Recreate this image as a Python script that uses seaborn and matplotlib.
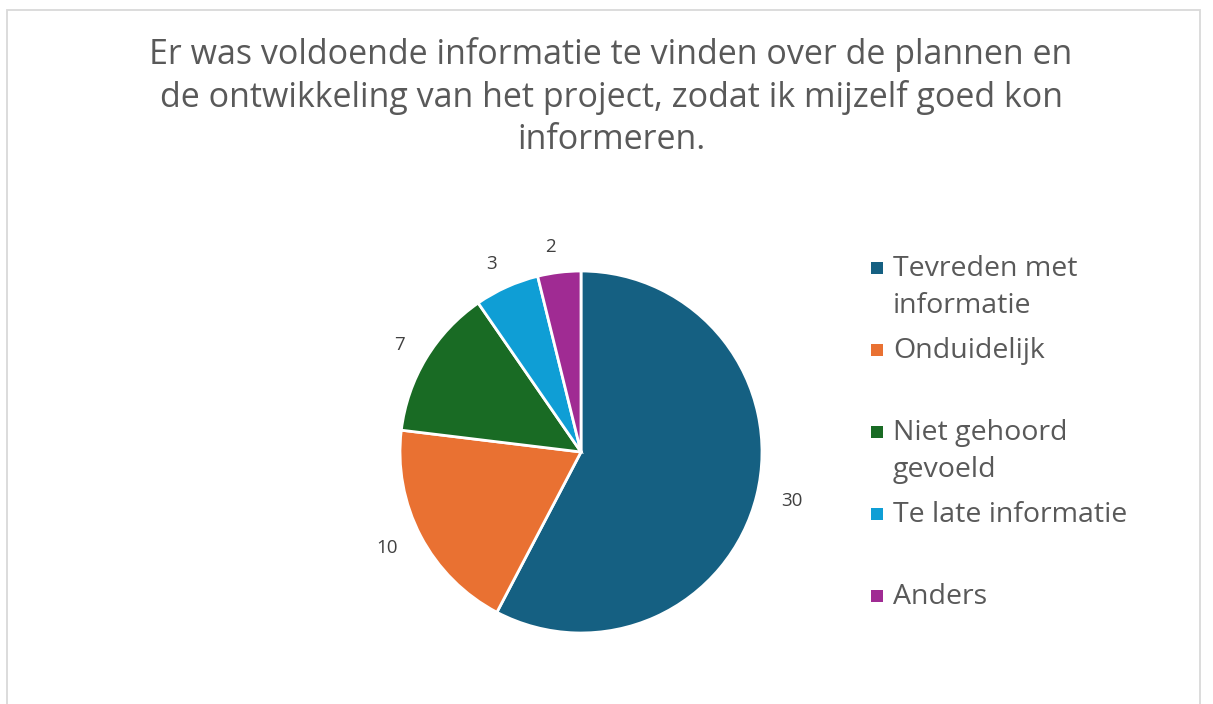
import matplotlib
matplotlib.use("Agg")
import matplotlib.pyplot as plt
import seaborn as sns
from matplotlib.patches import Rectangle

# Data
categories = ["Tevreden met\ninformatie", "Onduidelijk", "Niet gehoord\ngevoeld",
              "Te late informatie", "Anders"]
counts = [30, 10, 7, 3, 2]
colors = ["#156082", "#E97132", "#196B24", "#0F9ED5", "#A02B93"]
title = ("Er was voldoende informatie te vinden over de plannen en\n"
         "de ontwikkeling van het project, zodat ik mijzelf goed kon\n"
         "informeren.")

sns.set_theme(style="white")
plt.rcParams["font.family"] = ["Open Sans", "DejaVu Sans"]

W, H = 1213, 704
fig = plt.figure(figsize=(W / 100, H / 100), dpi=100)
fig.patch.set_facecolor("white")

# chart frame
frame = Rectangle((7 / W, -0.01), (1200 - 7) / W, (H - 10) / H + 0.01,
                  transform=fig.transFigure, fill=False,
                  edgecolor="#D9D9D9", linewidth=1.3)
fig.patches.append(frame)

# pie
cx, cy, r = 581, 452, 181
ax = fig.add_axes([(cx - r) / W, (H - cy - r) / H, 2 * r / W, 2 * r / H])
wedges, texts = ax.pie(counts, colors=colors, startangle=90, counterclock=False,
                       labels=[str(c) for c in counts], labeldistance=1.14,
                       wedgeprops=dict(edgecolor="white", linewidth=2),
                       textprops=dict(fontsize=13.5, color="#404040"))
ax.set_xlim(-1, 1)
ax.set_ylim(-1, 1)
ax.set_aspect("equal")
ax.axis("off")

fig.text(611 / W, 1 - 37 / H, title, ha="center", va="top", fontsize=24.5,
         color="#595959", linespacing=1.3)

# legend, equal slots like the original
slot_top = 255
slot_h = 82
for i, (lab, col) in enumerate(zip(categories, colors)):
    ty = slot_top + i * slot_h
    fig.patches.append(Rectangle((871 / W, 1 - (ty + 19) / H), 12 / W, 12 / H,
                                 transform=fig.transFigure, facecolor=col,
                                 edgecolor="none"))
    fig.text(893 / W, 1 - ty / H, lab, ha="left", va="top", fontsize=20.5,
             color="#595959", linespacing=1.42)

fig.savefig("out.png", dpi=100)
